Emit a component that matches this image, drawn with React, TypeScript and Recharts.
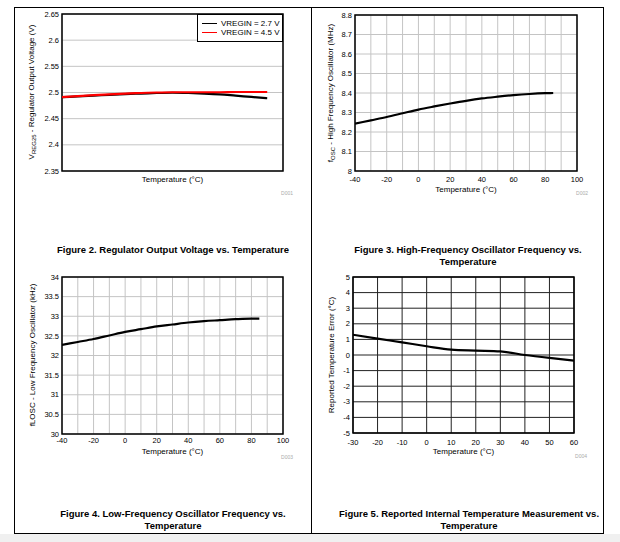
import React from 'react';
import { LineChart, Line, XAxis, YAxis, CartesianGrid, ReferenceArea, Legend } from 'recharts';

const FONT = '"Liberation Sans", Arial, Helvetica, sans-serif';

// Figure 2 – Regulator output voltage
const regTemps = [-40, -30, -20, -10, 0, 10, 20, 30, 40, 50, 60, 70, 80, 90];
const regV27 = [2.491, 2.4925, 2.494, 2.4955, 2.497, 2.498, 2.499, 2.4995, 2.499, 2.498, 2.4965, 2.494, 2.4915, 2.489];
const regV45 = [2.491, 2.493, 2.495, 2.4965, 2.498, 2.499, 2.5, 2.5005, 2.5005, 2.5005, 2.5005, 2.501, 2.501, 2.501];
const regXTicks = [-40, -30, -20, -10, 0, 10, 20, 30, 40, 50, 60, 70, 80, 90, 100];
const regYTicks = [2.35, 2.4, 2.45, 2.5, 2.55, 2.6, 2.65];

// Figure 3 – High-frequency oscillator
const hfoTemps = [-40, -30, -20, -10, 0, 10, 20, 30, 40, 50, 60, 70, 80, 85];
const hfoMHz = [8.243, 8.26, 8.277, 8.296, 8.315, 8.331, 8.346, 8.36, 8.372, 8.381, 8.389, 8.395, 8.399, 8.4];
const hfoXTicks = [-40, -30, -20, -10, 0, 10, 20, 30, 40, 50, 60, 70, 80, 90, 100];
const hfoYTicks = [8, 8.1, 8.2, 8.3, 8.4, 8.5, 8.6, 8.7, 8.8];

// Figure 4 – Low-frequency oscillator
const lfoTemps = [-40, -30, -20, -10, 0, 10, 20, 30, 40, 50, 60, 70, 80, 85];
const lfoKHz = [32.27, 32.345, 32.42, 32.51, 32.6, 32.67, 32.74, 32.79, 32.84, 32.875, 32.9, 32.925, 32.94, 32.94];
const lfoXTicks = [-40, -30, -20, -10, 0, 10, 20, 30, 40, 50, 60, 70, 80, 90, 100];
const lfoYTicks = [30, 30.5, 31, 31.5, 32, 32.5, 33, 33.5, 34];

// Figure 5 – Reported temperature error
const errTemps = [-30, -20, -10, 0, 10, 20, 30, 40, 50, 60];
const errC = [1.3, 1.05, 0.81, 0.56, 0.34, 0.28, 0.23, 0.0, -0.19, -0.36];
const errXTicks = [-30, -20, -10, 0, 10, 20, 30, 40, 50, 60];
const errYTicks = [-5, -4, -3, -2, -1, 0, 1, 2, 3, 4, 5];

const regData = regTemps.map((t, i) => ({ t, v27: regV27[i], v45: regV45[i] }));
const hfoData = hfoTemps.map((t, i) => ({ t, f: hfoMHz[i] }));
const lfoData = lfoTemps.map((t, i) => ({ t, f: lfoKHz[i] }));
const errData = errTemps.map((t, i) => ({ t, e: errC[i] }));

type Series = { key: string; name?: string; color: string };

const tickStyle = { fontSize: 7.5, fill: '#000', fontFamily: FONT };

const LegendBox = (props: any) => {
  const payload = props.payload || [];
  return (
    <div
      style={{
        border: '1px solid #000',
        background: '#fff',
        width: 86,
        height: 28,
        boxSizing: 'border-box',
        padding: '4px 0 0 4px',
        fontFamily: FONT,
      }}
    >
      {payload.map((p: any) => (
        <div key={p.value} style={{ display: 'flex', alignItems: 'center', height: 9, fontSize: 8, lineHeight: '9px', whiteSpace: 'nowrap' }}>
          <span style={{ display: 'inline-block', width: 15, height: 0, borderTop: `1.5px solid ${p.color}`, marginRight: 4 }} />
          <span>{p.value}</span>
        </div>
      ))}
    </div>
  );
};

function Plot(props: {
  left: number;
  top: number;
  data: any[];
  xDomain: [number, number];
  xTicks: number[];
  xLabelStep?: number;
  showXTicks: boolean;
  xTickMargin?: number;
  yDomain: [number, number];
  yTicks: number[];
  grid: string;
  series: Series[];
  margin: { top: number; right: number; bottom: number; left: number };
  legend?: boolean;
}) {
  const { left, top, data, xDomain, xTicks, xLabelStep, showXTicks, xTickMargin, yDomain, yTicks, grid, series, margin, legend } = props;
  return (
    <div style={{ position: 'absolute', left, top, width: 310, height: 270 }}>
      <LineChart width={310} height={270} data={data} margin={margin}>
        <CartesianGrid stroke={grid} strokeWidth={1} />
        <XAxis
          dataKey="t"
          type="number"
          domain={xDomain}
          ticks={xTicks}
          interval={0}
          allowDataOverflow
          height={12}
          axisLine={false}
          tickLine={false}
          tickSize={1}
          tickMargin={xTickMargin ?? 3}
          tick={showXTicks ? tickStyle : false}
          tickFormatter={(v: number) => (xLabelStep && v % xLabelStep !== 0 ? '' : String(v))}
        />
        <YAxis
          type="number"
          domain={yDomain}
          ticks={yTicks}
          interval={0}
          allowDataOverflow
          width={30}
          axisLine={false}
          tickLine={false}
          tickSize={1}
          tickMargin={2}
          tick={tickStyle}
        />
        {series.map((s) => (
          <Line
            key={s.key}
            dataKey={s.key}
            name={s.name}
            stroke={s.color}
            strokeWidth={2.2}
            dot={false}
            activeDot={false}
            type="monotone"
            isAnimationActive={false}
          />
        ))}
        <ReferenceArea
          x1={xDomain[0]}
          x2={xDomain[1]}
          y1={yDomain[0]}
          y2={yDomain[1]}
          fill="none"
          fillOpacity={0}
          stroke="#000"
          strokeWidth={1.5}
        />
        {legend && (
          <Legend
            layout="horizontal"
            verticalAlign="middle"
            align="center"
            wrapperStyle={{ top: 14, left: 197, width: 86, height: 28 }}
            content={LegendBox}
          />
        )}
      </LineChart>
    </div>
  );
}

const CText = (p: { cx: number; cy: number; children: React.ReactNode; size?: number; bold?: boolean; lh?: number; color?: string }) => {
  const lh = p.lh ?? 12;
  return (
    <div
      style={{
        position: 'absolute',
        left: p.cx - 200,
        width: 400,
        top: p.cy - lh / 2,
        textAlign: 'center',
        fontSize: p.size ?? 8,
        lineHeight: `${lh}px`,
        fontWeight: p.bold ? 'bold' : 'normal',
        color: p.color ?? '#000',
        whiteSpace: 'nowrap',
      }}
    >
      {p.children}
    </div>
  );
};

const VText = (p: { cx: number; cy: number; children: React.ReactNode }) => (
  <div
    style={{
      position: 'absolute',
      left: p.cx,
      top: p.cy,
      transform: 'translate(-50%, -50%) rotate(-90deg)',
      fontSize: 8,
      lineHeight: '10px',
      whiteSpace: 'nowrap',
    }}
  >
    {p.children}
  </div>
);

const RText = (p: { right: number; cy: number; children: React.ReactNode }) => (
  <div
    style={{
      position: 'absolute',
      left: p.right - 40,
      width: 40,
      top: p.cy - 3,
      textAlign: 'right',
      fontSize: 5,
      lineHeight: '6px',
      color: '#aaa',
    }}
  >
    {p.children}
  </div>
);

const sub = { fontSize: 6, verticalAlign: 'sub' as const };

export default function App() {
  return (
    <div style={{ position: 'absolute', left: 0, top: 0, width: 620, height: 542, background: '#fff', fontFamily: FONT, overflow: 'hidden' }}>
      <div style={{ position: 'absolute', left: 0, top: 534, width: 620, height: 8, background: '#f0f0f0' }} />
      {/* frame */}
      <div style={{ position: 'absolute', left: 14, top: 7, width: 590, height: 527, border: '1px solid #000', boxSizing: 'border-box' }} />
      <div style={{ position: 'absolute', left: 311, top: 7, width: 1, height: 527, background: '#000' }} />

      <Plot
        left={0}
        top={0}
        data={regData}
        xDomain={[-40, 100]}
        xTicks={regXTicks}
        showXTicks={false}
        yDomain={[2.35, 2.65]}
        yTicks={regYTicks}
        grid="#c4c4c4"
        series={[
          { key: 'v27', name: 'VREGIN = 2.7 V', color: '#000' },
          { key: 'v45', name: 'VREGIN = 4.5 V', color: '#ff0000' },
        ]}
        margin={{ top: 14, right: 27, bottom: 87, left: 32 }}
        legend
      />
      <Plot
        left={310}
        top={0}
        data={hfoData}
        xDomain={[-40, 100]}
        xTicks={hfoXTicks}
        xLabelStep={20}
        showXTicks
        xTickMargin={4.5}
        yDomain={[8, 8.8]}
        yTicks={hfoYTicks}
        grid="#c4c4c4"
        series={[{ key: 'f', color: '#000' }]}
        margin={{ top: 15, right: 43, bottom: 87, left: 15 }}
      />
      <Plot
        left={0}
        top={270}
        data={lfoData}
        xDomain={[-40, 100]}
        xTicks={lfoXTicks}
        xLabelStep={20}
        showXTicks
        yDomain={[30, 34]}
        yTicks={lfoYTicks}
        grid="#c4c4c4"
        series={[{ key: 'f', color: '#000' }]}
        margin={{ top: 7, right: 27, bottom: 94, left: 32 }}
      />
      <Plot
        left={310}
        top={270}
        data={errData}
        xDomain={[-30, 60]}
        xTicks={errXTicks}
        showXTicks
        xTickMargin={6}
        yDomain={[-5, 5]}
        yTicks={errYTicks}
        grid="#222"
        series={[{ key: 'e', color: '#000' }]}
        margin={{ top: 7, right: 46, bottom: 95, left: 13 }}
      />

      {/* Figure 2 texts */}
      <CText cx={172.5} cy={180}>Temperature (°C)</CText>
      <VText cx={33} cy={92}>
        V<span style={sub}>REG25</span> - Regulator Output Voltage (V)
      </VText>
      <RText right={293} cy={193}>D001</RText>
      <CText cx={173} cy={250} size={9.5} bold>Figure 2. Regulator Output Voltage vs. Temperature</CText>

      {/* Figure 3 texts */}
      <CText cx={466} cy={190}>Temperature (°C)</CText>
      <VText cx={332} cy={93}>
        f<span style={sub}>OSC</span> - High Frequency Oscillator (MHz)
      </VText>
      <RText right={588} cy={193}>D002</RText>
      <CText cx={468} cy={250} size={9.5} bold>Figure 3. High-Frequency Oscillator Frequency vs.</CText>
      <CText cx={468} cy={262} size={9.5} bold>Temperature</CText>

      {/* Figure 4 texts */}
      <CText cx={172.5} cy={452}>Temperature (°C)</CText>
      <VText cx={33} cy={355}>fLOSC - Low Frequency Oscillator (kHz)</VText>
      <RText right={293} cy={457}>D003</RText>
      <CText cx={173} cy={514} size={9.5} bold>Figure 4. Low-Frequency Oscillator Frequency vs.</CText>
      <CText cx={173} cy={526} size={9.5} bold>Temperature</CText>

      {/* Figure 5 texts */}
      <CText cx={463.5} cy={452}>Temperature (°C)</CText>
      <VText cx={332} cy={355}>Reported Temperature Error (°C)</VText>
      <RText right={587} cy={456}>D004</RText>
      <CText cx={469} cy={514} size={9.5} bold>Figure 5. Reported Internal Temperature Measurement vs.</CText>
      <CText cx={469} cy={526} size={9.5} bold>Temperature</CText>
    </div>
  );
}
